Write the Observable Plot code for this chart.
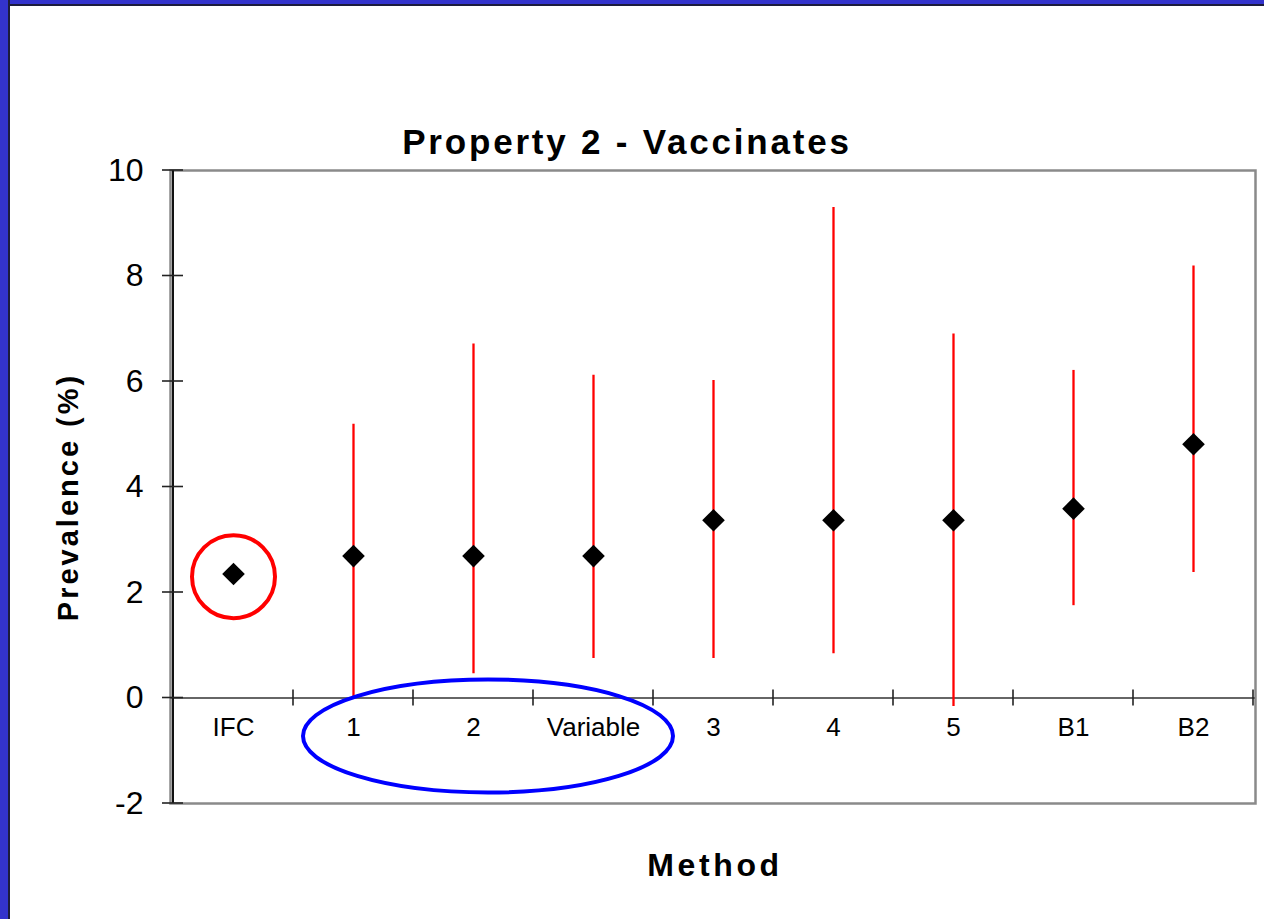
<!DOCTYPE html>
<html><head><meta charset="utf-8">
<script src="https://cdn.jsdelivr.net/npm/d3@7"></script>
<script src="https://cdn.jsdelivr.net/npm/@observablehq/plot@0.6"></script>
<style>
body{margin:0;background:#fff;}
#wrap{position:relative;width:1264px;height:919px;overflow:hidden;background:#fff;font-family:Arial,"Liberation Sans",sans-serif;}
#bl{position:absolute;left:0;top:0;width:8px;height:919px;background:#3333cc;border-right:2px solid #1c1c3c;}
#bt{position:absolute;left:0;top:0;width:1264px;height:4px;background:#3333cc;border-bottom:2px solid #1c1c3c;}
#chart{position:absolute;left:0;top:0;}
</style></head><body>
<div id="wrap"><div id="bt"></div><div id="bl"></div><div id="chart"></div></div>
<script>
const methods = ["IFC", "1", "2", "Variable", "3", "4", "5", "B1", "B2"];
const estimate = [2.35, 2.69, 2.69, 2.69, 3.37, 3.37, 3.37, 3.59, 4.81];
const lower = [null, 0, 0.46, 0.75, 0.75, 0.84, -0.16, 1.75, 2.38];
const upper = [null, 5.19, 6.71, 6.12, 6.02, 9.30, 6.90, 6.21, 8.19];
const yTicks = [-2, 0, 2, 4, 6, 8, 10];
const titleText = "Property 2 - Vaccinates";
const yLabel = "Prevalence (%)";
const xLabel = "Method";
const circleNote = [{method: "IFC", y: 2.3}];

const rows = methods.map((m, i) => ({method: m, est: estimate[i], lo: lower[i], hi: upper[i]}));
const bars = rows.filter(d => d.lo != null);
const font = "Arial, 'Liberation Sans', sans-serif";

const plot = Plot.plot({
  width: 1264, height: 919,
  marginLeft: 170, marginRight: 9, marginTop: 170, marginBottom: 116,
  style: {background: "transparent", fontFamily: font, color: "black", overflow: "visible"},
  x: {type: "point", domain: methods, padding: 0.5, align: 0.5, axis: null},
  y: {domain: [-2, 10], axis: null},
  marks: [
    Plot.frame({stroke: "#8a8a8a", strokeWidth: 2.5}),
    Plot.ruleY([0], {stroke: "#666", strokeWidth: 2}),
    Plot.axisY({ticks: yTicks, tickSize: 0, tickPadding: 27, fontSize: 32, tickFormat: d => String(d), label: null}),
    Plot.ruleX(bars, {x: "method", y1: "lo", y2: "hi", stroke: "#ff0000", strokeWidth: 2.3}),
    Plot.dot(rows, {x: "method", y: "est", symbol: "diamond2", r: 10.2, fill: "black", stroke: "none"}),
    Plot.dot(circleNote, {x: "method", y: "y", r: 41.5, stroke: "#ff0000", strokeWidth: 4, fill: "none"}),
    Plot.text(methods, {x: d => d, y: 0, dy: 30, fontSize: 26, fill: "black"}),
    Plot.text([titleText], {frameAnchor: "top", lineAnchor: "middle", textAnchor: "middle", dx: -86, dy: -28, fontSize: 35, fontWeight: "bold", fill: "black"}),
    Plot.text([yLabel], {frameAnchor: "left", lineAnchor: "middle", textAnchor: "middle", dx: -102, dy: 10, rotate: -90, fontSize: 29, fontWeight: "bold", fill: "black"}),
    Plot.text([xLabel], {frameAnchor: "bottom", lineAnchor: "middle", textAnchor: "middle", dx: 2, dy: 62, fontSize: 32, fontWeight: "bold", fill: "black"})
  ]
});

const sx = plot.scale("x"), sy = plot.scale("y");
const step = sx.apply(methods[1]) - sx.apply(methods[0]);
const x0 = sx.apply(methods[0]) - step / 2;
const y0 = sy.apply(0);
const svg = d3.select(plot);
const g = svg.append("g").attr("stroke", "#222").attr("stroke-width", 1.6);
g.append("line").attr("x1", x0).attr("x2", x0).attr("y1", sy.apply(10)).attr("y2", sy.apply(-2)).attr("stroke", "#111").attr("stroke-width", 2);
yTicks.forEach(t => {
  g.append("line").attr("x1", x0 - 11).attr("x2", x0 + 10).attr("y1", sy.apply(t)).attr("y2", sy.apply(t));
});
methods.forEach(m => {
  const bx = sx.apply(m) + step / 2;
  g.append("line").attr("x1", bx).attr("x2", bx).attr("y1", y0 - 8).attr("y2", y0 + 8);
});
// blue ellipse annotation around methods 1, 2 and Variable
svg.append("ellipse")
  .attr("cx", (sx.apply("1") + sx.apply("Variable")) / 2 + 15)
  .attr("cy", sy.apply(-0.73))
  .attr("rx", 185).attr("ry", 56.5)
  .attr("fill", "none").attr("stroke", "#0000ff").attr("stroke-width", 4);
const spacing = {[titleText]: "2.8px", [yLabel]: "3px", [xLabel]: "3.6px"};
svg.selectAll("text").each(function() {
  const s = spacing[this.textContent];
  if (s) this.style.letterSpacing = s;
});
document.getElementById("chart").appendChild(plot);
</script>
</body></html>
